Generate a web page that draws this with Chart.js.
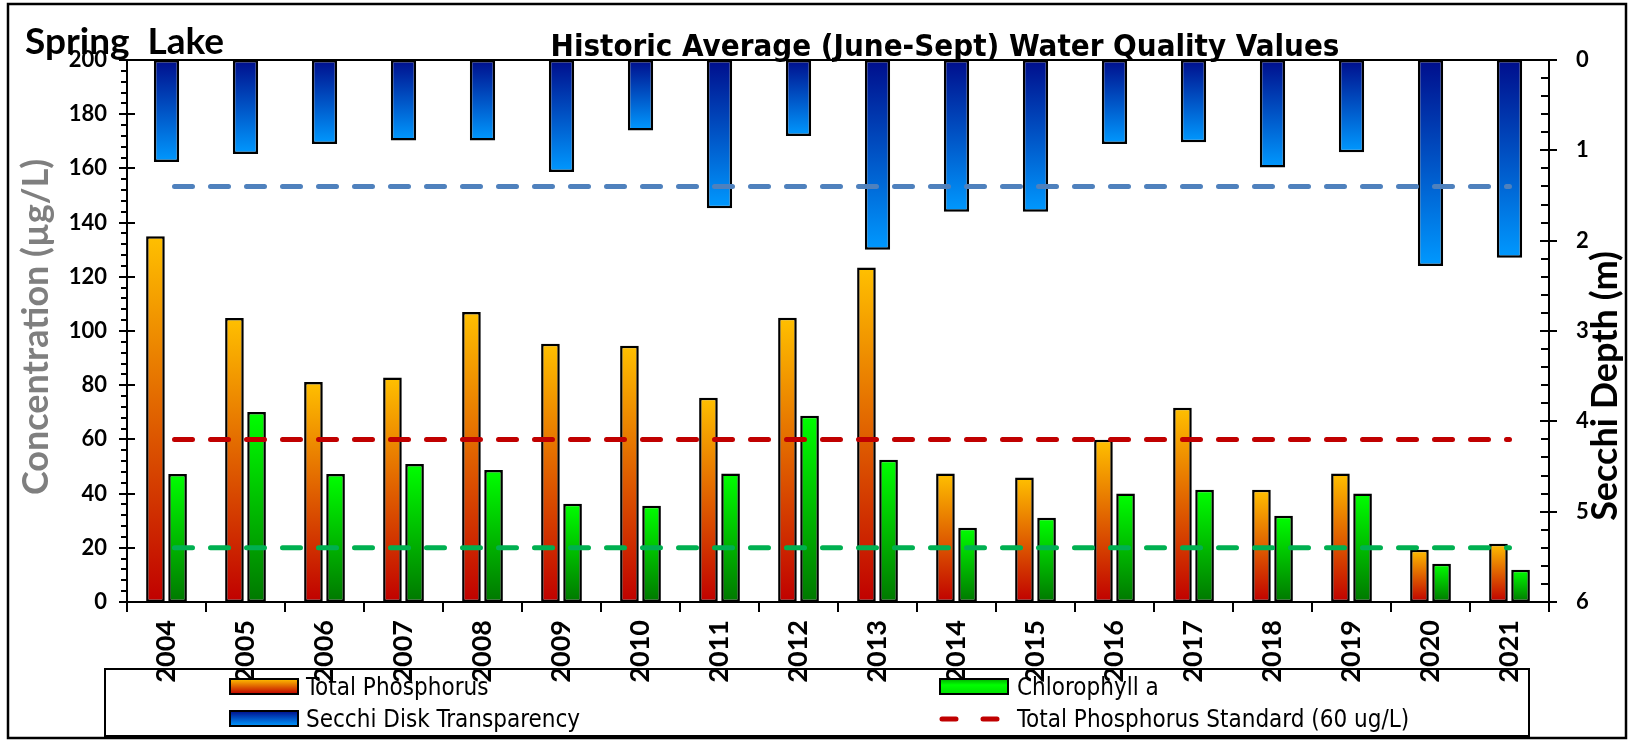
<!DOCTYPE html>
<html>
<head>
<meta charset="utf-8">
<script src="https://cdn.jsdelivr.net/npm/chart.js@4.4.1/dist/chart.umd.min.js"></script>
<style>
html,body{margin:0;padding:0;background:#fff;}
#wrap{width:1633px;height:742px;position:relative;}
</style>
</head>
<body>
<div id="wrap"><canvas id="c" width="1633" height="742"></canvas></div>
<script>
// ---- data ----
const years = ['2004','2005','2006','2007','2008','2009','2010','2011','2012','2013','2014','2015','2016','2017','2018','2019','2020','2021'];
const totalPhosphorus = [135, 104.8, 81.2, 82.8, 107, 95.3, 94.6, 75.4, 104.9, 123.4, 47.4, 45.9, 59.9, 71.7, 41.4, 47.4, 19.3, 21.5];
const chlorophyllA   = [47.2, 70.1, 47.2, 50.9, 48.7, 36.3, 35.5, 47.4, 68.7, 52.5, 27.4, 31.1, 40.0, 41.4, 31.8, 40.0, 14.1, 11.9];
const secchiDepth    = [1.13, 1.04, 0.93, 0.89, 0.89, 1.24, 0.78, 1.64, 0.84, 2.10, 1.68, 1.68, 0.93, 0.91, 1.19, 1.02, 2.28, 2.19];
const tpStandard = 60;
const chlStandard = 20;
const secchiStandard = 1.4;
const concentrationAxis = {min: 0, max: 200, step: 20, minorStep: 4};
const depthAxis = {min: 0, max: 6, step: 1, minorStep: 0.2};
const chartTitle = 'Historic Average (June-Sept) Water Quality Values';
const lakeName = 'Spring  Lake';
const leftAxisTitle = 'Concentration (µg/L)';
const rightAxisTitle = 'Secchi Depth (m)';
const legendLabels = ['Total Phosphorus', 'Chlorophyll a', 'Secchi Disk Transparency', 'Total Phosphorus Standard (60 ug/L)'];

// ---- styles ----
const TP_STOPS = [[0,'#FFC000'],[1,'#C00000']];
const CHL_STOPS = [[0,'#00FF00'],[1,'#007800']];
const SEC_STOPS = [[0,'#000E8C'],[1,'#0099FF']];
const BOLD = 'Lato, "Open Sans", sans-serif';
const COND = '"DejaVu Sans Condensed", "Liberation Sans Narrow", "DejaVu Sans", sans-serif';
const PAIR_SHIFT = 0.14;   // side-by-side offset of the two concentration bars, in category widths

// per-category index table for the concentration bars (built from the arrays above)
const tpPoints  = totalPhosphorus.map((v, i) => ({x: i, y: v}));
const chlPoints = chlorophyllA.map((v, i) => ({x: i, y: v}));

function barGradient(ctx, scaleId, stops) {
  const chart = ctx.chart;
  if (!chart.chartArea || ctx.type !== 'data' || !ctx.parsed) return stops[0][1];
  const s = chart.scales[scaleId];
  const p0 = s.getPixelForValue(0), p1 = s.getPixelForValue(ctx.parsed.y);
  const top = Math.min(p0, p1), bot = Math.max(p0, p1);
  const g = chart.ctx.createLinearGradient(0, top, 0, bot + 0.01);
  stops.forEach(([o, c]) => g.addColorStop(o, c));
  return g;
}

const framePlugin = {
  id: 'frame',
  beforeDraw(chart) {
    const c = chart.ctx;
    c.save();
    c.fillStyle = '#fff';
    c.fillRect(0, 0, chart.width, chart.height);
    c.restore();
  },
  afterDraw(chart) {
    const c = chart.ctx;
    const a = chart.chartArea;
    const y = chart.scales.y, y2 = chart.scales.y2;
    c.save();
    // outer border
    c.strokeStyle = '#000'; c.lineWidth = 2.5;
    c.strokeRect(8, 4, 1618, 734);
    // top border of plot
    c.lineWidth = 2;
    c.beginPath(); c.moveTo(a.left, a.top); c.lineTo(a.right, a.top); c.stroke();
    // left axis ticks
    for (let v = concentrationAxis.min; v <= concentrationAxis.max + 1e-6; v += concentrationAxis.minorStep) {
      const p = Math.round(y.getPixelForValue(v));
      const major = Math.abs(v / concentrationAxis.step - Math.round(v / concentrationAxis.step)) < 1e-6;
      c.beginPath();
      if (major) { c.moveTo(a.left - 8, p); c.lineTo(a.left + 8, p); }
      else { c.moveTo(a.left - 6, p); c.lineTo(a.left, p); }
      c.stroke();
    }
    // right axis ticks
    for (let v = depthAxis.min; v <= depthAxis.max + 1e-6; v += depthAxis.minorStep) {
      const p = Math.round(y2.getPixelForValue(v));
      const major = Math.abs(v / depthAxis.step - Math.round(v / depthAxis.step)) < 1e-6;
      c.beginPath();
      if (major) { c.moveTo(a.right - 9, p); c.lineTo(a.right + 8, p); }
      else { c.moveTo(a.right - 8, p); c.lineTo(a.right, p); }
      c.stroke();
    }
    // titles
    c.fillStyle = '#000';
    c.textBaseline = 'alphabetic';
    c.textAlign = 'left';
    c.font = 'bold 37px ' + BOLD;
    c.fillText(lakeName, 25, 54);
    c.textAlign = 'center';
    c.font = 'bold 31px ' + COND;
    c.fillText(chartTitle, 945, 56);
    // axis titles
    c.save();
    c.translate(36, (a.top + a.bottom) / 2 - 4);
    c.rotate(-Math.PI / 2);
    c.fillStyle = '#7F7F7F';
    c.font = 'bold 36px ' + BOLD;
    c.textAlign = 'center'; c.textBaseline = 'middle';
    c.fillText(leftAxisTitle, 0, 0);
    c.restore();
    c.save();
    c.translate(1605, 386);
    c.rotate(-Math.PI / 2);
    c.fillStyle = '#000';
    c.font = 'bold 36px ' + BOLD;
    c.textAlign = 'center'; c.textBaseline = 'middle';
    c.fillText(rightAxisTitle, 0, 0);
    c.restore();
    // legend
    c.lineWidth = 2;
    c.strokeStyle = '#000';
    c.strokeRect(105, 669, 1424, 67);
    const sw = (x, yy, stops) => {
      const g = c.createLinearGradient(0, yy, 0, yy + 15);
      stops.forEach(([o, col]) => g.addColorStop(o, col));
      c.fillStyle = g;
      c.fillRect(x, yy, 68, 15);
      c.strokeRect(x, yy, 68, 15);
    };
    sw(230, 679, TP_STOPS);
    sw(230, 711, SEC_STOPS);
    sw(940, 679, [[0,'#00B000'],[0.4,'#00FF00'],[1,'#00E000']]);
    c.save();
    c.strokeStyle = '#C00000'; c.lineWidth = 5; c.lineCap = 'round';
    c.setLineDash([14, 27]);
    c.beginPath(); c.moveTo(942, 719); c.lineTo(1000, 719); c.stroke();
    c.restore();
    c.fillStyle = '#000';
    c.font = '24px ' + COND;
    c.textAlign = 'left'; c.textBaseline = 'middle';
    c.fillText(legendLabels[0], 306, 689);
    c.fillText(legendLabels[2], 306, 721);
    c.fillText(legendLabels[1], 1017, 689);
    c.fillText(legendLabels[3], 1017, 721);
    c.restore();
  }
};

const tickFont = {family: BOLD, weight: 'bold', size: 22};
const lineStyle = {borderWidth: 5, borderDash: [18, 18], borderDashOffset: -8, borderCapStyle: 'round', pointRadius: 0, fill: false, order: 0};
const n = years.length;

new Chart(document.getElementById('c'), {
  type: 'bar',
  data: {
    labels: years,
    datasets: [
      Object.assign({
        type: 'line', label: 'Total Phosphorus Standard (60 ug/L)',
        data: [{x: years[0], y: tpStandard}, {x: years[n - 1], y: tpStandard}],
        xAxisID: 'x', yAxisID: 'y', borderColor: '#C00000'
      }, lineStyle),
      Object.assign({
        type: 'line', label: 'Chlorophyll Standard',
        data: [{x: years[0], y: chlStandard}, {x: years[n - 1], y: chlStandard}],
        xAxisID: 'x', yAxisID: 'y', borderColor: '#00B050'
      }, lineStyle),
      Object.assign({
        type: 'line', label: 'Secchi Standard',
        data: [{x: years[0], y: secchiStandard}, {x: years[n - 1], y: secchiStandard}],
        xAxisID: 'x', yAxisID: 'y2', borderColor: '#4F81BD'
      }, lineStyle),
      {
        type: 'bar', label: 'Total Phosphorus', data: tpPoints, grouped: false,
        xAxisID: 'xTP', yAxisID: 'y',
        backgroundColor: (ctx) => barGradient(ctx, 'y', TP_STOPS),
        borderColor: '#000', borderWidth: 2.5, borderSkipped: false,
        categoryPercentage: 0.236, barPercentage: 1, order: 2
      },
      {
        type: 'bar', label: 'Chlorophyll a', data: chlPoints, grouped: false,
        xAxisID: 'xChl', yAxisID: 'y',
        backgroundColor: (ctx) => barGradient(ctx, 'y', CHL_STOPS),
        borderColor: '#000', borderWidth: 2.5, borderSkipped: false,
        categoryPercentage: 0.236, barPercentage: 1, order: 2
      },
      {
        type: 'bar', label: 'Secchi Disk Transparency', data: secchiDepth, grouped: false,
        xAxisID: 'x2', yAxisID: 'y2',
        backgroundColor: (ctx) => barGradient(ctx, 'y2', SEC_STOPS),
        borderColor: '#000', borderWidth: 2.5, borderSkipped: false,
        categoryPercentage: 0.32, barPercentage: 1, order: 3
      }
    ]
  },
  options: {
    responsive: false,
    animation: false,
    devicePixelRatio: 1,
    layout: {padding: {top: 60, left: 0, right: 0, bottom: 0}},
    plugins: {legend: {display: false}, tooltip: {enabled: false}, title: {display: false}},
    scales: {
      x: {
        type: 'category', labels: years, offset: true, position: 'bottom',
        grid: {display: true, drawOnChartArea: false, drawTicks: true, tickLength: 10, color: '#000', lineWidth: 2, offset: true},
        border: {display: true, color: '#000', width: 2},
        ticks: {font: {family: BOLD, weight: 'bold', size: 27}, color: '#000', minRotation: 90, maxRotation: 90, autoSkip: false, padding: 8},
        afterFit(s) { s.height = 140; }
      },
      x2: {
        type: 'category', labels: years, offset: true, display: false,
        grid: {offset: true}
      },
      xTP: {
        type: 'linear', position: 'bottom', display: false, offset: false,
        min: -0.5 + PAIR_SHIFT, max: n - 0.5 + PAIR_SHIFT
      },
      xChl: {
        type: 'linear', position: 'bottom', display: false, offset: false,
        min: -0.5 - PAIR_SHIFT, max: n - 0.5 - PAIR_SHIFT
      },
      y: {
        type: 'linear', position: 'left', stacked: false, min: concentrationAxis.min, max: concentrationAxis.max,
        grid: {display: false, drawTicks: false},
        border: {display: true, color: '#000', width: 2},
        ticks: {stepSize: concentrationAxis.step, font: tickFont, color: '#000', padding: 20},
        afterFit(s) { s.width = 127; }
      },
      y2: {
        type: 'linear', position: 'right', stacked: false, reverse: true, min: depthAxis.min, max: depthAxis.max,
        grid: {display: false, drawTicks: false},
        border: {display: true, color: '#000', width: 2},
        ticks: {stepSize: depthAxis.step, font: tickFont, color: '#000', padding: 27},
        afterFit(s) { s.width = 84; }
      }
    }
  },
  plugins: [framePlugin]
});
</script>
</body>
</html>
